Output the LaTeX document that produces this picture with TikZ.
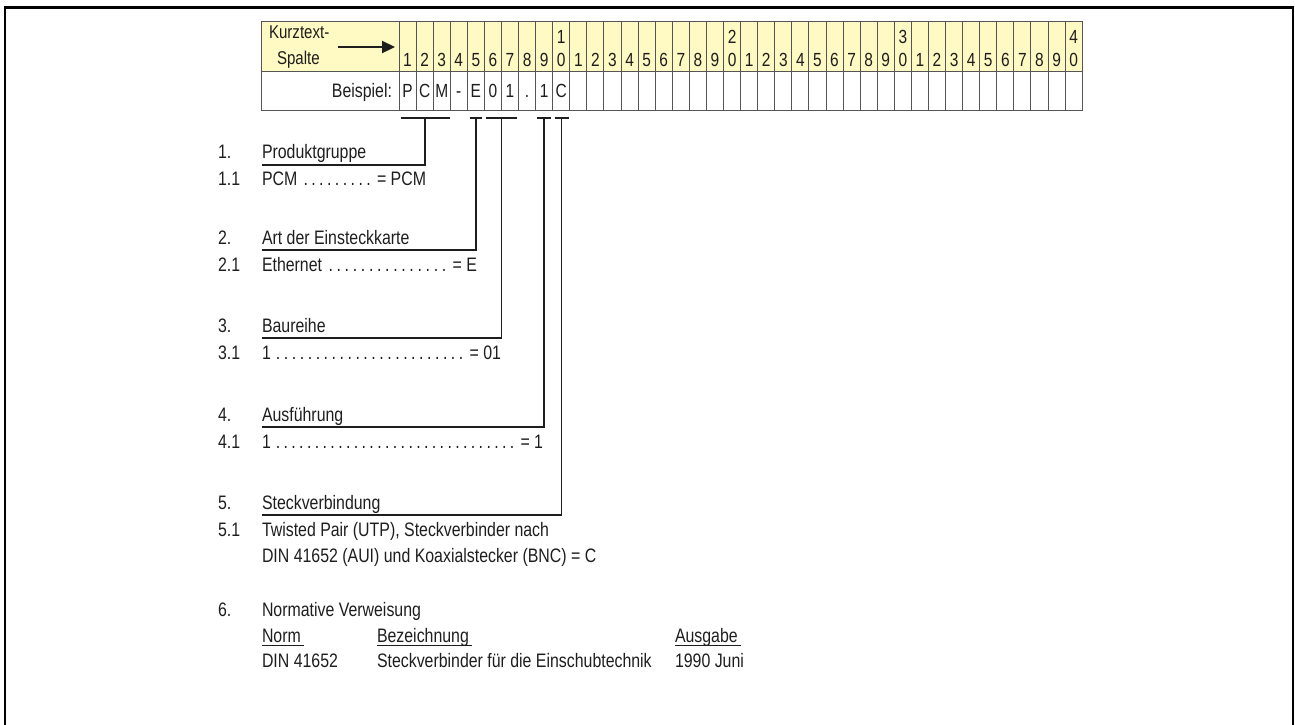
\documentclass[tikz,border=0pt]{standalone}
\usepackage{fontspec}
\setmainfont{Liberation Sans}[FakeStretch=0.815]
\usetikzlibrary{arrows.meta}
\definecolor{cellyellow}{RGB}{255,249,196}
\definecolor{gridgray}{RGB}{85,85,85}
\definecolor{inkgray}{RGB}{30,30,30}
\newcommand\dotlead{\xleaders\hbox to 7.7pt{\hss.\hss}\hfill}
\begin{document}
\begin{tikzpicture}[x={(1pt,0pt)},y={(0pt,-1pt)},
  txt/.style={anchor=base west,inner sep=0pt,outer sep=0pt,font=\fontsize{19.5}{22}\selectfont,text=inkgray},
  small/.style={anchor=base west,inner sep=0pt,outer sep=0pt,font=\fontsize{18.5}{20}\selectfont,text=inkgray},
  cell/.style={anchor=base,inner sep=0pt,outer sep=0pt,font=\fontsize{19}{20}\selectfont,text=inkgray},
  grid/.style={draw=gridgray,line width=1pt},
  lead/.style={draw=inkgray,line width=1.4pt},
  brk/.style={draw=inkgray,line width=1.4pt},
  uline/.style={draw=inkgray,line width=1pt},
  frame/.style={draw=black,line width=2.6pt}]
\useasboundingbox (0,0) rectangle (1295,724);
% outer frame (open at the bottom)
\draw[frame] (5,740) -- (5,7.5) -- (1293,7.5) -- (1293,740);
% table
\fill[cellyellow] (261,21) rectangle (1082.2,71);
\fill[white] (261,71) rectangle (1082.2,110);
\draw[grid] (261,21) rectangle (1082.2,110);
\draw[grid] (261,71) -- (1082.2,71);
\foreach \k in {0,...,39} {
  \draw[grid] ({399+\k*17.08},21) -- ({399+\k*17.08},110);
}
\foreach \k in {1,...,40} {
  \pgfmathsetmacro\xc{399+(\k-0.5)*17.08}
  \pgfmathtruncatemacro\u{mod(\k,10)}
  \node[cell] (d\k) at (\xc,66) {\u};
  \ifnum\u=0
    \pgfmathtruncatemacro\t{\k/10}
    \node[cell] (t\k) at (\xc,43) {\t};
  \fi
}
\foreach \c [count=\k] in {P,C,M,-,E,0,1,.,1,C} {
  \pgfmathsetmacro\xc{399+(\k-0.5)*17.08}
  \node[cell] (b\k) at (\xc,97) {\c};
}
\node[small] (kt) at (269,38) {Kurztext-};
\node[small] (sp) at (277,64) {Spalte};
\coordinate (a1) at (338,47);
\coordinate (a2) at (395,47);
\draw[draw=inkgray,line width=2.2pt,-{Triangle[length=13pt,width=12pt]}] (a1) -- (a2);
\node[txt,anchor=base east] (bsp) at (392,97) {Beispiel:};
% brackets under the table
\foreach \i/\l/\r/\v in {1/401/450/425, 2/469.5/482/476, 3/486/517/501.5, 4/537/551/544, 5/554.5/568.5/561.5} {
  \coordinate (bl\i) at (\l,118);
  \coordinate (br\i) at (\r,118);
  \coordinate (bt\i) at (\v,118);
  \draw[brk] (bl\i) -- (br\i);
}
% headings
\node[txt] (n1) at (218,158) {1.};
\node[txt] (h1) at (262,158) {Produktgruppe};
\node[txt] (n11) at (218,185) {1.1};
\node[txt] (s1) at (262,185) {\hbox to 164pt{PCM \dotlead\ = PCM}};

\node[txt] (n2) at (218,244) {2.};
\node[txt] (h2) at (262,244) {Art der Einsteckkarte};
\node[txt] (n21) at (218,271) {2.1};
\node[txt] (s2) at (262,271) {\hbox to 215pt{Ethernet \dotlead\ = E}};

\node[txt] (n3) at (218,332) {3.};
\node[txt] (h3) at (262,332) {Baureihe};
\node[txt] (n31) at (218,359) {3.1};
\node[txt] (s3) at (262,359) {\hbox to 239pt{1\,\dotlead\ = 01}};

\node[txt] (n4) at (218,421) {4.};
\node[txt] (h4) at (262,421) {Ausführung};
\node[txt] (n41) at (218,448) {4.1};
\node[txt] (s4) at (262,448) {\hbox to 281pt{1\,\dotlead\ = 1}};

\node[txt] (n5) at (218,509) {5.};
\node[txt] (h5) at (262,509) {Steckverbindung};
\node[txt] (n51) at (218,536) {5.1};
\node[txt] (s5) at (262,536) {Twisted Pair (UTP), Steckverbinder nach};
\node[txt] (s5b) at (262,562) {DIN 41652 (AUI) und Koaxialstecker (BNC) = C};

\node[txt] (n6) at (218,616) {6.};
\node[txt] (h6) at (262,616) {Normative Verweisung};
\node[txt] (norm) at (262,642) {Norm};
\node[txt] (bez) at (377,642) {Bezeichnung};
\node[txt] (ausg) at (675,642) {Ausgabe};
\node[txt] (din) at (262,667) {DIN 41652};
\node[txt] (stv) at (377,667) {Steckverbinder für die Einschubtechnik};
\node[txt] (jun) at (675,667) {1990 Juni};
\foreach \n in {norm,bez,ausg} {
  \draw[uline] ([yshift=-3pt]\n.base west) -- ([xshift=3pt,yshift=-3pt]\n.base east);
}
% leader lines from brackets to headings
\foreach \i/\v/\y in {1/425/165, 2/476/250, 3/501.5/338, 4/544/427, 5/561.5/515} {
  \coordinate (hl\i) at (262,\y);
  \coordinate (hc\i) at (\v,\y);
  \draw[lead] (hl\i) -- (hc\i) -- (bt\i);
}
\end{tikzpicture}
\end{document}
